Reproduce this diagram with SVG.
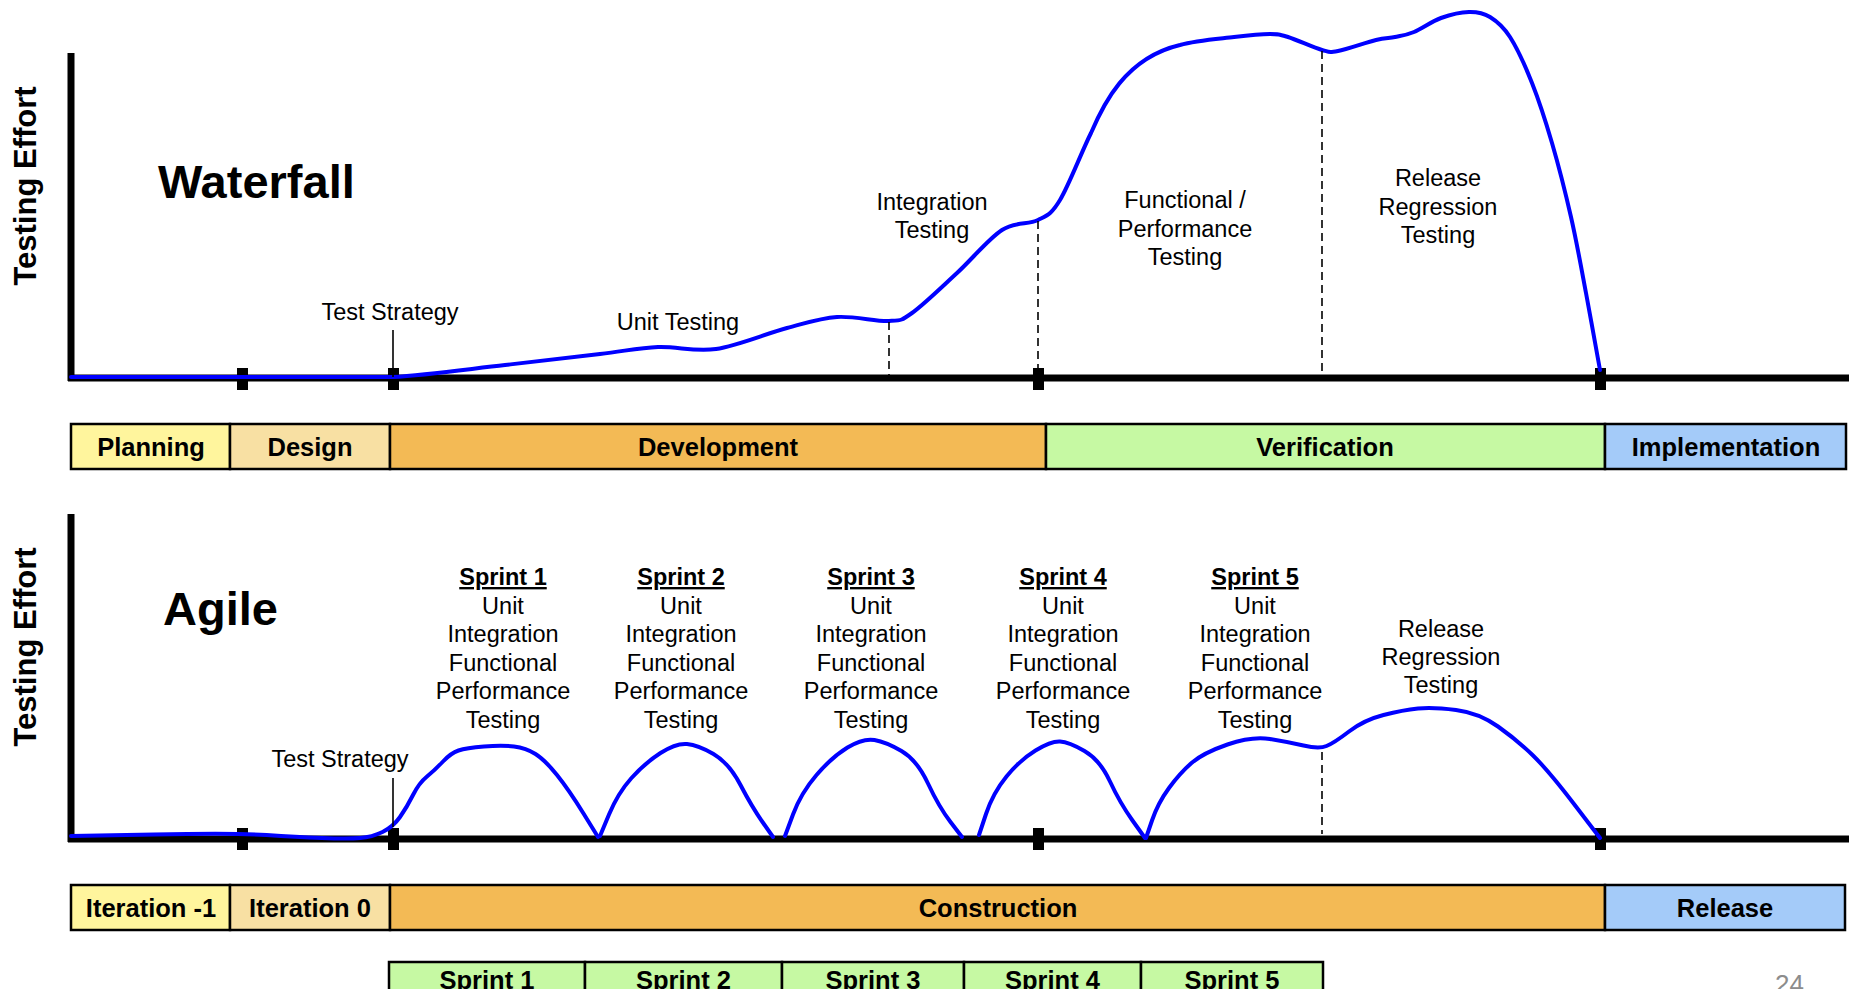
<svg xmlns="http://www.w3.org/2000/svg" width="1849" height="989" viewBox="0 0 1849 989">
  <style>
    .axis { stroke: #000; stroke-width: 7; fill: none; }
    .tick { fill: #000; }
    .effort { stroke: #0000ff; stroke-width: 4; fill: none; stroke-linejoin: round; stroke-linecap: round; }
    .dash { stroke: #000; stroke-width: 1.6; stroke-dasharray: 8 5; fill: none; }
    .lead { stroke: #000; stroke-width: 1.6; fill: none; }
    .bar { stroke: #000; stroke-width: 2.5; }
    .title { font-family: "Liberation Sans", Arial, sans-serif; font-weight: bold; font-size: 47px; fill: #000; }
    .ylab { font-family: "Liberation Sans", Arial, sans-serif; font-weight: bold; font-size: 31px; fill: #000; text-anchor: middle; }
    .lbl { font-family: "Liberation Sans", Arial, sans-serif; font-size: 23.5px; fill: #000; text-anchor: middle; }
    .sprint { font-family: "Liberation Sans", Arial, sans-serif; font-size: 23.5px; font-weight: bold; text-decoration: underline; }
    .blbl { font-family: "Liberation Sans", Arial, sans-serif; font-weight: bold; font-size: 25.5px; fill: #000; text-anchor: middle; }
    .page { font-family: "Liberation Sans", Arial, sans-serif; font-size: 26px; fill: #8c8c8c; }
  </style>

  <rect width="1849" height="989" fill="#ffffff"/>

  <!-- ===== Waterfall chart ===== -->
  <g id="waterfall-axes">
    <line class="axis" x1="71" y1="53" x2="71" y2="381"/>
    <line class="axis" x1="68" y1="378" x2="1849" y2="378"/>
    <text class="ylab" transform="translate(36,186) rotate(-90)">Testing Effort</text>
    <rect class="tick" x="237" y="368" width="11" height="22"/>
    <rect class="tick" x="388" y="368" width="11" height="22"/>
    <rect class="tick" x="1033" y="368" width="11" height="22"/>
    <rect class="tick" x="1595" y="368" width="11" height="22"/>
  </g>

  <g id="waterfall-title">
    <text class="title" x="158" y="198">Waterfall</text>
  </g>

  <g id="waterfall-curve">
    <path class="effort" d="M71,377 L393,377
      C427.2,375 470.5,368.8 505,365
      C539.5,361.2 574.5,357 600,354
      C625.5,351 638.7,347.8 658,347
      C677.3,346.2 694.5,352.2 716,349
      C737.5,345.8 766.8,333.3 787,328
      C807.2,322.7 820,318.2 837,317
      C854,315.8 876.5,321.7 889,321
      C901.5,320.3 900.7,321 912,313
      C923.3,305 942,286.8 957,273
      C972,259.2 988.5,238.8 1002,230
      C1015.5,221.2 1028.3,225 1038,220
      C1047.7,215 1051.2,214.5 1060,200
      C1068.8,185.5 1081.3,152.5 1091,133
      C1103,105 1125,58 1180,45
      C1196.3,40.3 1219,38.8 1234,37
      C1249,35.2 1261,34 1270,34
      C1279,34 1279.3,34.3 1288,37
      C1296.7,39.7 1313.7,47.7 1322,50
      C1330.3,52.3 1329,52.7 1338,51
      C1347,49.3 1366.5,42.3 1376,40
      C1385.5,37.7 1388.7,38.3 1395,37
      C1401.3,35.7 1406.3,35.2 1414,32
      C1421.7,28.8 1431.8,21.3 1441,18
      C1450.2,14.7 1460.8,12.2 1469,12
      C1477.2,11.8 1483.2,12.8 1490,17
      C1496.8,21.2 1503,26 1510,37
      C1517,48 1525,65.3 1532,83
      C1539,100.7 1545.5,120.7 1552,143
      C1558.5,165.3 1565.3,192 1571,217
      C1576.7,242 1581.2,267.5 1586,293
      C1590.8,318.5 1597.7,357.2 1600,370"/>
  </g>

  <g id="waterfall-labels">
    <text class="lbl" x="390" y="320">Test Strategy</text>
    <text class="lbl" x="678" y="330">Unit Testing</text>
    <text class="lbl" x="932" y="210">Integration</text>
    <text class="lbl" x="932" y="238">Testing</text>
    <text class="lbl" x="1185" y="208">Functional /</text>
    <text class="lbl" x="1185" y="237">Performance</text>
    <text class="lbl" x="1185" y="265">Testing</text>
    <text class="lbl" x="1438" y="186">Release</text>
    <text class="lbl" x="1438" y="215">Regression</text>
    <text class="lbl" x="1438" y="243">Testing</text>
  </g>

  <g id="waterfall-phases">
    <rect class="bar" x="71" y="424" width="159" height="45" fill="#fff59d"/>
    <rect class="bar" x="230" y="424" width="160" height="45" fill="#f8e0a3"/>
    <rect class="bar" x="390" y="424" width="656" height="45" fill="#f3ba55"/>
    <rect class="bar" x="1046" y="424" width="559" height="45" fill="#c6f9a3"/>
    <rect class="bar" x="1605" y="424" width="241" height="45" fill="#a4cbf9"/>
    <text class="blbl" x="151" y="456">Planning</text>
    <text class="blbl" x="310" y="456">Design</text>
    <text class="blbl" x="718" y="456">Development</text>
    <text class="blbl" x="1325" y="456">Verification</text>
    <text class="blbl" x="1726" y="456">Implementation</text>
  </g>

  <!-- ===== Agile chart ===== -->
  <g id="agile-axes">
    <line class="axis" x1="71" y1="514" x2="71" y2="842"/>
    <line class="axis" x1="68" y1="839" x2="1849" y2="839"/>
    <text class="ylab" transform="translate(36,647) rotate(-90)">Testing Effort</text>
    <rect class="tick" x="237" y="828" width="11" height="22"/>
    <rect class="tick" x="388" y="828" width="11" height="22"/>
    <rect class="tick" x="1033" y="828" width="11" height="22"/>
    <rect class="tick" x="1595" y="828" width="11" height="22"/>
  </g>

  <g id="agile-title">
    <text class="title" x="163" y="625">Agile</text>
  </g>

  <g id="agile-curve">
    <path class="effort" d="M71,836 L154,834.5 Q237,833 266.5,835 Q296,837 322,838 Q348,839 360,838 Q372,837 382.5,832 Q393,827 400,817 Q407,807 413,795 Q419,783 427,776.5 Q435,770 443,761.5 Q451,753 458.5,750.5 Q466,748 484,746.5 Q502,745 514,746.5 Q526,748 535.5,754 Q545,760 557,775 Q569,790 583.5,813.5 L598,837"/>
    <path class="effort" d="M600,836 L609,814.5 Q618,793 631.5,778 Q645,763 660.5,753 Q676,743 687,744 Q698,745 713.5,754 Q729,763 740.5,785 Q752,807 762.5,822 L773,837"/>
    <path class="effort" d="M785,836 L793,814.5 Q801,793 816.5,775 Q832,757 847.5,747.5 Q863,738 874.5,740 Q886,742 901.5,751 Q917,760 928,783.5 Q939,807 950.5,822 L962,837"/>
    <path class="effort" d="M979,835 L986,814 Q993,793 1006.5,776.5 Q1020,760 1035.5,750.5 Q1051,741 1060,741.5 Q1069,742 1084.5,751 Q1100,760 1110,781.5 Q1120,803 1132.5,820.5 L1145,838"/>
    <path class="effort" d="M1146,838 L1152,820.5 Q1158,803 1169,788 Q1180,773 1191.5,763 Q1203,753 1227.5,744.5 Q1252,736 1270,739 Q1288,742 1303.5,745.5 Q1319,749 1326.5,746 Q1334,743 1349,731.5 Q1364,720 1383.5,715 Q1403,710 1418,708.5 Q1433,707 1456,710 Q1479,713 1498,726.5 Q1517,740 1532.5,755 Q1548,770 1574,804 L1600,838"/>
  </g>

  <g id="agile-labels">
    <text class="lbl" x="340" y="767">Test Strategy</text>
    <g id="sprint-1-label">
      <text class="lbl" x="503" y="585"><tspan class="sprint">Sprint 1</tspan></text>
      <text class="lbl" x="503" y="613.6">Unit</text>
      <text class="lbl" x="503" y="642.2">Integration</text>
      <text class="lbl" x="503" y="670.8">Functional</text>
      <text class="lbl" x="503" y="699.4">Performance</text>
      <text class="lbl" x="503" y="728">Testing</text>
    </g>
    <g id="sprint-2-label">
      <text class="lbl" x="681" y="585"><tspan class="sprint">Sprint 2</tspan></text>
      <text class="lbl" x="681" y="613.6">Unit</text>
      <text class="lbl" x="681" y="642.2">Integration</text>
      <text class="lbl" x="681" y="670.8">Functional</text>
      <text class="lbl" x="681" y="699.4">Performance</text>
      <text class="lbl" x="681" y="728">Testing</text>
    </g>
    <g id="sprint-3-label">
      <text class="lbl" x="871" y="585"><tspan class="sprint">Sprint 3</tspan></text>
      <text class="lbl" x="871" y="613.6">Unit</text>
      <text class="lbl" x="871" y="642.2">Integration</text>
      <text class="lbl" x="871" y="670.8">Functional</text>
      <text class="lbl" x="871" y="699.4">Performance</text>
      <text class="lbl" x="871" y="728">Testing</text>
    </g>
    <g id="sprint-4-label">
      <text class="lbl" x="1063" y="585"><tspan class="sprint">Sprint 4</tspan></text>
      <text class="lbl" x="1063" y="613.6">Unit</text>
      <text class="lbl" x="1063" y="642.2">Integration</text>
      <text class="lbl" x="1063" y="670.8">Functional</text>
      <text class="lbl" x="1063" y="699.4">Performance</text>
      <text class="lbl" x="1063" y="728">Testing</text>
    </g>
    <g id="sprint-5-label">
      <text class="lbl" x="1255" y="585"><tspan class="sprint">Sprint 5</tspan></text>
      <text class="lbl" x="1255" y="613.6">Unit</text>
      <text class="lbl" x="1255" y="642.2">Integration</text>
      <text class="lbl" x="1255" y="670.8">Functional</text>
      <text class="lbl" x="1255" y="699.4">Performance</text>
      <text class="lbl" x="1255" y="728">Testing</text>
    </g>
    <text class="lbl" x="1441" y="637">Release</text>
    <text class="lbl" x="1441" y="665">Regression</text>
    <text class="lbl" x="1441" y="693">Testing</text>
  </g>

  <g id="agile-phases">
    <rect class="bar" x="71" y="885" width="159" height="45" fill="#fff59d"/>
    <rect class="bar" x="230" y="885" width="160" height="45" fill="#f8e0a3"/>
    <rect class="bar" x="390" y="885" width="1215" height="45" fill="#f3ba55"/>
    <rect class="bar" x="1605" y="885" width="240" height="45" fill="#a4cbf9"/>
    <text class="blbl" x="151" y="917">Iteration -1</text>
    <text class="blbl" x="310" y="917">Iteration 0</text>
    <text class="blbl" x="998" y="917">Construction</text>
    <text class="blbl" x="1725" y="917">Release</text>
  </g>

  <g id="sprint-boxes">
    <rect class="bar" x="389" y="962" width="196" height="45" fill="#c6f9a3"/>
    <rect class="bar" x="585" y="962" width="197" height="45" fill="#c6f9a3"/>
    <rect class="bar" x="782" y="962" width="182" height="45" fill="#c6f9a3"/>
    <rect class="bar" x="964" y="962" width="177" height="45" fill="#c6f9a3"/>
    <rect class="bar" x="1141" y="962" width="182" height="45" fill="#c6f9a3"/>
    <text class="blbl" x="487" y="989">Sprint 1</text>
    <text class="blbl" x="683.5" y="989">Sprint 2</text>
    <text class="blbl" x="873" y="989">Sprint 3</text>
    <text class="blbl" x="1052.5" y="989">Sprint 4</text>
    <text class="blbl" x="1232" y="989">Sprint 5</text>
  </g>

  <!-- Milestone markers and leader lines -->
  <g id="connectors">
    <line class="lead" x1="393" y1="330" x2="393" y2="377"/>
    <line class="dash" x1="889" y1="322" x2="889" y2="375"/>
    <line class="dash" x1="1038" y1="221" x2="1038" y2="375"/>
    <line class="dash" x1="1322" y1="51" x2="1322" y2="375"/>
    <line class="lead" x1="393" y1="778" x2="393" y2="827"/>
    <line class="dash" x1="1322" y1="752" x2="1322" y2="834"/>
  </g>

  <g id="page-number">
    <text class="page" x="1775" y="993">24</text>
  </g>
</svg>
